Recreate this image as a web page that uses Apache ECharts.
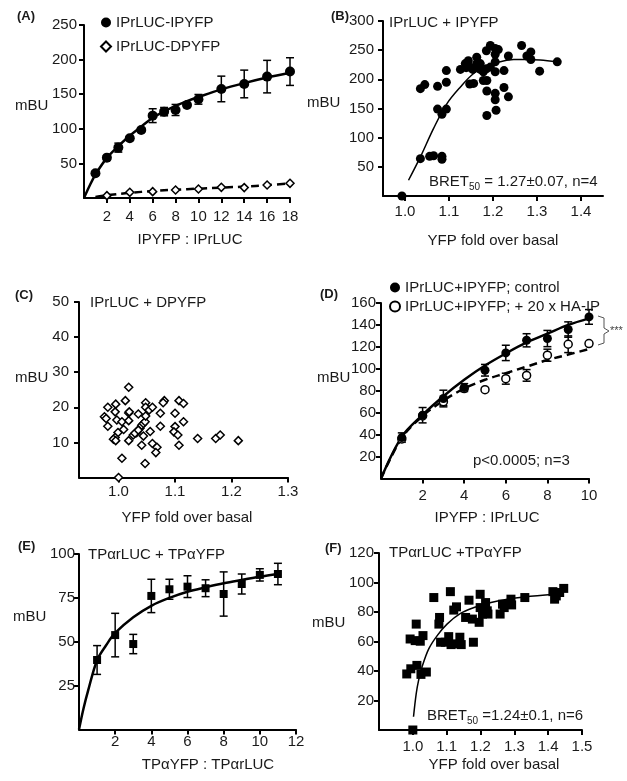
<!DOCTYPE html>
<html><head><meta charset="utf-8">
<script src="https://cdn.jsdelivr.net/npm/echarts@6/dist/echarts.min.js"></script>
<style>html,body{margin:0;padding:0;background:#fff}#c{width:627px;height:781px}</style>
</head><body><div id="c"></div>
<script>
// ---------- DATA ----------
// Panel A
const aX = [1,2,3,4,5,6,7,8,9,10,12,14,16,18];
const aY = [35.7,58.3,72.8,86.3,98.3,119,124.8,127.2,134.5,142.6,157.6,164.8,175.4,182.7];
const aErr = [3,3,6.5,3,3,10,6,8,3,7,18.5,20,23.5,20];
const aFitX = [0,0.5,1,2,3,4,5,6,7,8,9,10,12,14,16,18];
const aFitY = [0,18,34,58,75,90,103,116,125,133,140,146,157,166,174,181];
const aDpX = [2,4,6,8,10,12,14,16,18];
const aDpY = [3.4,8.2,9.2,11.6,13,15.4,15,18.8,21.2];
const aDpFitX = [1,2,4,6,8,10,12,14,16,18];
const aDpFitY = [1.5,4,7.5,10,12,13.5,15,16.5,18.5,21];
// Panel B
const bX = [0.993,1.035,1.045,1.035,1.056,1.065,1.084,1.084,1.074,1.094,1.094,1.074,1.084,1.094,
  1.126,1.137,1.144,1.147,1.154,1.163,1.163,1.171,1.147,1.156,1.178,1.186,
  1.185,1.194,1.205,1.212,1.185,1.194,1.205,1.205,1.186,1.205,1.205,1.207,1.186,
  1.225,1.225,1.235,1.235,1.265,1.277,1.286,1.286,1.306,1.346,1.171,1.178,1.139,1.205];
const bY = [0,184,191,64,68,69,68,63,188,215,195,149,140,149,
  217,227,232,221,217,238,227,217,192,193,198,198,
  249,258,253,251,218,221,230,213,180,176,165,147,138,
  215,186,170,240,258,240,247,234,214,230,227,213,220,243];
const bFitX = [1.008,1.035,1.065,1.095,1.126,1.156,1.186,1.216,1.247,1.277,1.307,1.346];
const bFitY = [27,67,116,158,187,210,222,230,234,234,233,230];
// Panel C
const cX = [1.0,1.018,0.981,0.995,1.012,0.994,0.975,0.978,0.981,0.997,1.006,1.018,1.019,1.018,0.999,
  1.009,0.994,0.991,0.995,1.018,1.026,1.032,1.035,1.038,1.041,1.044,1.047,1.048,1.048,1.054,
  1.06,1.048,1.056,1.044,1.041,1.06,1.068,1.066,1.074,1.074,1.081,1.079,1.1,1.1,1.098,
  1.105,1.107,1.107,1.115,1.115,1.14,1.172,1.18,1.212,1.006,1.047,1.029,1.035];
const cY = [0,25.7,20,20.9,21.9,18.7,17.3,16.8,14.6,16.4,15.9,18.4,18.7,16.2,12.8,
  13.7,11.4,10.9,10.5,10.5,12.1,12.8,18.1,14,14.9,15.4,15.9,21.3,20,19.2,
  20,17.5,13.1,11.8,9.2,9.7,8.6,7.1,18.3,14.6,21.9,21.3,18.3,14.5,13,
  12.1,9.2,21.9,21.1,15.9,11.1,11.1,12.1,10.5,5.5,4,12.6,13.5];
// Panel D
const dX = [1,2,3,4,5,6,7,8,9,10];
const dCtrlY = [37.3,57.7,72.9,82.9,98.7,114.5,126,127.6,135.8,147.3];
const dCtrlErr = [4.3,7,7.6,3.6,5.3,7,6,7.4,7,6.7];
const dHaY = [36,57,70,82,81,91,94,112.4,122.4,123];
const dHaErr = [0,0,3.5,0,0,5,5.3,5.5,7.6,0];
const dFitX = [0,1,2,3,4,5,6,7,8,9,10];
const dCtrlFit = [0,38,58,75,90,103,114,124,132,140,146];
const dHaFit = [0,37,57,71,82,90,96,102,108,113,118];
// Panel E
const eX = [1,2,3,4,5,6,7,8,9,10,11];
const eY = [39.6,53.8,48.7,76.1,79.9,81.4,80.5,77.2,82.9,88.1,88.6];
const eErr = [8.2,12.4,5.5,9.5,5.7,6.2,4.8,12.6,5.7,3.5,6.1];
const eFitX = [0,0.25,0.5,1,1.5,2,3,4,5,6,7,8,9,10,11];
const eFitY = [0,12,22,39.5,48,55,64,70.5,75,78.5,81,83.3,85.2,87,88.6];
// Panel F
const fX = [1.0,0.982,0.994,1.012,1.024,1.04,1.01,0.992,1.007,1.022,1.03,1.062,1.079,1.077,1.082,
  1.096,1.111,1.121,1.129,1.106,1.113,1.125,1.139,1.143,1.166,1.156,1.176,1.179,1.199,1.199,
  1.196,1.215,1.22,1.206,1.222,1.258,1.265,1.27,1.29,1.292,1.331,1.414,1.424,1.419,1.446,1.434];
const fY = [0,38,41.5,43.8,37.7,39.3,71.8,61.7,60.6,60.2,64,89.8,76.3,71.8,59.5,
  59.5,93.8,81.3,83.5,63.3,57.9,58.4,62.9,57.9,88,76.3,75.2,59.5,92,83,
  73,86.4,80.8,78.6,78.6,78.6,85.3,83,88.7,84.8,89.8,93.8,90.9,88.7,96,93.2];
const fFitX = [1.002,1.01,1.017,1.027,1.047,1.072,1.101,1.141,1.181,1.231,1.28,1.33,1.419];
const fFitY = [9,24.7,33.7,42.6,55,64,71.8,79,83,86.4,88.7,90.2,92];
// Tick labels
const bTicks = [1.0,1.1,1.2,1.3,1.4];
const cTicks = [1.0,1.1,1.2,1.3];
const fTicks = [1.0,1.1,1.2,1.3,1.4,1.5];

// ---------- HELPERS ----------
const FONT = '"Liberation Sans", Arial, Helvetica, sans-serif';
const TXT = '#1a1a1a';
const zip = (xs, ys) => xs.map((x, i) => [x, ys[i]]);
const zip3 = (xs, ys, es) => xs.map((x, i) => [x, ys[i], es[i]]);

function xAx(gi, o) {
  const ax = {
    type: 'value', gridIndex: gi, min: o.min, max: o.max,
    axisLine: {show: true, onZero: false, lineStyle: {color: '#000', width: 2}},
    axisTick: {show: true, length: 5, lineStyle: {color: '#000', width: 2}},
    splitLine: {show: false},
    axisLabel: {color: TXT, fontSize: 15, fontFamily: FONT, margin: o.margin, showMinLabel: false}
  };
  if (o.interval) ax.interval = o.interval;
  if (o.custom) {
    ax.axisLabel.customValues = o.custom;
    ax.axisLabel.showMinLabel = true;
    ax.axisLabel.formatter = v => Number(v).toFixed(1);
    ax.axisTick.customValues = o.custom;
  }
  return ax;
}
function yAx(gi, o) {
  return {
    type: 'value', gridIndex: gi, min: 0, max: o.max, interval: o.interval,
    axisLine: {show: true, onZero: false, lineStyle: {color: '#000', width: 2}},
    axisTick: {show: true, length: 5, lineStyle: {color: '#000', width: 2}},
    splitLine: {show: false},
    axisLabel: {color: TXT, fontSize: 15, fontFamily: FONT, margin: o.margin, showMinLabel: false}
  };
}
function errRender(params, api) {
  const x = api.value(0), y = api.value(1), e = api.value(2);
  if (!e) return null;
  const hi = api.coord([x, y + e]), lo = api.coord([x, y - e]);
  const w = 4, st = {stroke: '#000', lineWidth: 1.5};
  return {type: 'group', children: [
    {type: 'line', shape: {x1: hi[0], y1: hi[1], x2: lo[0], y2: lo[1]}, style: st},
    {type: 'line', shape: {x1: hi[0] - w, y1: hi[1], x2: hi[0] + w, y2: hi[1]}, style: st},
    {type: 'line', shape: {x1: lo[0] - w, y1: lo[1], x2: lo[0] + w, y2: lo[1]}, style: st}
  ]};
}
function errSeries(gi, data) {
  return {type: 'custom', xAxisIndex: gi, yAxisIndex: gi, renderItem: errRender, data: data, z: 3, silent: true};
}
function fit(gi, data, width, dashed) {
  return {type: 'line', xAxisIndex: gi, yAxisIndex: gi, data: data, smooth: 0.35, showSymbol: false, symbol: 'none',
    lineStyle: {color: '#000', width: width, type: dashed ? [8, 5] : 'solid'}, z: 2, silent: true};
}
function T(text, x, y, extra) {
  return {type: 'text', x: x, y: y, z: 100, style: Object.assign({
    text: text, fill: TXT, font: '15px ' + FONT,
    textAlign: 'left', align: 'left', textVerticalAlign: 'middle', verticalAlign: 'middle'
  }, extra || {})};
}
function B(text, x, y) { return T(text, x, y, {font: 'bold 13px ' + FONT}); }
function C(text, x, y) { return T(text, x, y, {textAlign: 'center', align: 'center'}); }
function bret(rest, x, y) {
  return T('{a|BRET}{s|50}{a|' + rest + '}', x, y, {
    rich: {a: {fontSize: 15, fontFamily: FONT, fill: TXT, lineHeight: 20},
           s: {fontSize: 10, fontFamily: FONT, fill: TXT, verticalAlign: 'bottom', lineHeight: 12}}
  });
}

const filled = {color: '#000', opacity: 1};
const hollow = {color: '#fff', borderColor: '#000', borderWidth: 1.5, opacity: 1};

const option = {
  backgroundColor: '#fff',
  animation: false,
  grid: [
    {left: 84, top: 25, width: 206, height: 173},
    {left: 383, top: 21, width: 220, height: 175},
    {left: 79, top: 302, width: 209, height: 175.5},
    {left: 381, top: 303, width: 208, height: 175.5},
    {left: 79, top: 554, width: 217, height: 175.5},
    {left: 379, top: 553, width: 203, height: 177}
  ],
  xAxis: [
    xAx(0, {min: 0, max: 18, interval: 2, margin: 11}),
    xAx(1, {min: 0.95, max: 1.45, custom: bTicks, margin: 8}),
    xAx(2, {min: 0.93, max: 1.3, custom: cTicks, margin: 7}),
    xAx(3, {min: 0, max: 10, interval: 2, margin: 10}),
    xAx(4, {min: 0, max: 12, interval: 2, margin: 5}),
    xAx(5, {min: 0.9, max: 1.5, custom: fTicks, margin: 9})
  ],
  yAxis: [
    yAx(0, {max: 250, interval: 50, margin: 7}),
    yAx(1, {max: 300, interval: 50, margin: 9}),
    yAx(2, {max: 50, interval: 10, margin: 10}),
    yAx(3, {max: 160, interval: 20, margin: 5}),
    yAx(4, {max: 100, interval: 25, margin: 4}),
    yAx(5, {max: 120, interval: 20, margin: 5})
  ],
  legend: [
    {selectedMode: false, orient: 'vertical', left: 95, top: 9, itemWidth: 10, itemHeight: 10, itemGap: 7,
     textStyle: {fontSize: 15, color: TXT, fontFamily: FONT, lineHeight: 17},
     data: [{name: 'IPrLUC-IPYFP', icon: 'circle'}, {name: 'IPrLUC-DPYFP', icon: 'diamond'}]},
    {selectedMode: false, orient: 'vertical', left: 384, top: 274, itemWidth: 10, itemHeight: 10, itemGap: 2,
     textStyle: {fontSize: 15, color: TXT, fontFamily: FONT, lineHeight: 17},
     data: [{name: 'IPrLUC+IPYFP; control', icon: 'circle'}, {name: 'IPrLUC+IPYFP; + 20 x HA-IP', icon: 'circle'}]}
  ],
  series: [
    // A
    fit(0, zip(aFitX, aFitY), 2.5, false),
    fit(0, zip(aDpFitX, aDpFitY), 2.5, true),
    errSeries(0, zip3(aX, aY, aErr)),
    {name: 'IPrLUC-IPYFP', type: 'scatter', xAxisIndex: 0, yAxisIndex: 0, data: zip(aX, aY), symbol: 'circle', symbolSize: 10, itemStyle: filled, z: 5},
    {name: 'IPrLUC-DPYFP', type: 'scatter', xAxisIndex: 0, yAxisIndex: 0, data: zip(aDpX, aDpY), symbol: 'diamond', symbolSize: 8, itemStyle: hollow, z: 5},
    // B
    fit(1, zip(bFitX, bFitY), 1.5, false),
    {name: 'B', type: 'scatter', xAxisIndex: 1, yAxisIndex: 1, data: zip(bX, bY), symbol: 'circle', symbolSize: 9, itemStyle: filled, z: 5},
    // C
    {name: 'C', type: 'scatter', xAxisIndex: 2, yAxisIndex: 2, data: zip(cX, cY), symbol: 'diamond', symbolSize: 8, itemStyle: hollow, z: 5},
    // D
    fit(3, zip(dFitX, dCtrlFit), 2.5, false),
    fit(3, zip(dFitX, dHaFit), 2.5, true),
    errSeries(3, zip3(dX, dHaY, dHaErr)),
    errSeries(3, zip3(dX, dCtrlY, dCtrlErr)),
    {name: 'IPrLUC+IPYFP; + 20 x HA-IP', type: 'scatter', xAxisIndex: 3, yAxisIndex: 3, data: zip(dX, dHaY), symbol: 'circle', symbolSize: 8, itemStyle: hollow, z: 5},
    {name: 'IPrLUC+IPYFP; control', type: 'scatter', xAxisIndex: 3, yAxisIndex: 3, data: zip(dX, dCtrlY), symbol: 'circle', symbolSize: 9, itemStyle: filled, z: 6},
    // E
    fit(4, zip(eFitX, eFitY), 2.5, false),
    errSeries(4, zip3(eX, eY, eErr)),
    {name: 'E', type: 'scatter', xAxisIndex: 4, yAxisIndex: 4, data: zip(eX, eY), symbol: 'rect', symbolSize: 8, itemStyle: filled, z: 5},
    // F
    fit(5, zip(fFitX, fFitY), 1.5, false),
    {name: 'F', type: 'scatter', xAxisIndex: 5, yAxisIndex: 5, data: zip(fX, fY), symbol: 'rect', symbolSize: 9, itemStyle: filled, z: 5}
  ],
  graphic: [
    B('(A)', 17, 16), B('(B)', 331, 16), B('(C)', 15, 295), B('(D)', 320, 294), B('(E)', 18, 546), B('(F)', 325, 548),
    T('mBU', 15, 106), T('mBU', 307, 103), T('mBU', 15, 378), T('mBU', 317, 378), T('mBU', 13, 617), T('mBU', 312, 623),
    T('IPrLUC + IPYFP', 389, 23), T('IPrLUC + DPYFP', 90, 303), T('TPαrLUC + TPαYFP', 88, 555), T('TPαrLUC +TPαYFP', 389, 553),
    C('IPYFP : IPrLUC', 190, 240), C('YFP fold over basal', 493, 241), C('YFP fold over basal', 187, 518),
    C('IPYFP : IPrLUC', 487, 518), C('TPαYFP : TPαrLUC', 208, 765), C('YFP fold over basal', 494, 765),
    bret(' = 1.27±0.07, n=4', 429, 182), bret(' =1.24±0.1, n=6', 427, 716),
    T('p<0.0005; n=3', 473, 461),
    T('***', 610, 331, {font: '11px ' + FONT, fill: '#444'}),
    {type: 'polyline', z: 100, shape: {points: [[598, 316], [604, 318], [604, 328], [609, 331], [604, 334], [604, 343], [598, 345]]},
     style: {stroke: '#555', lineWidth: 1, fill: null}}
  ]
};
const chart = echarts.init(document.getElementById('c'));
chart.setOption(option);
</script></body></html>
